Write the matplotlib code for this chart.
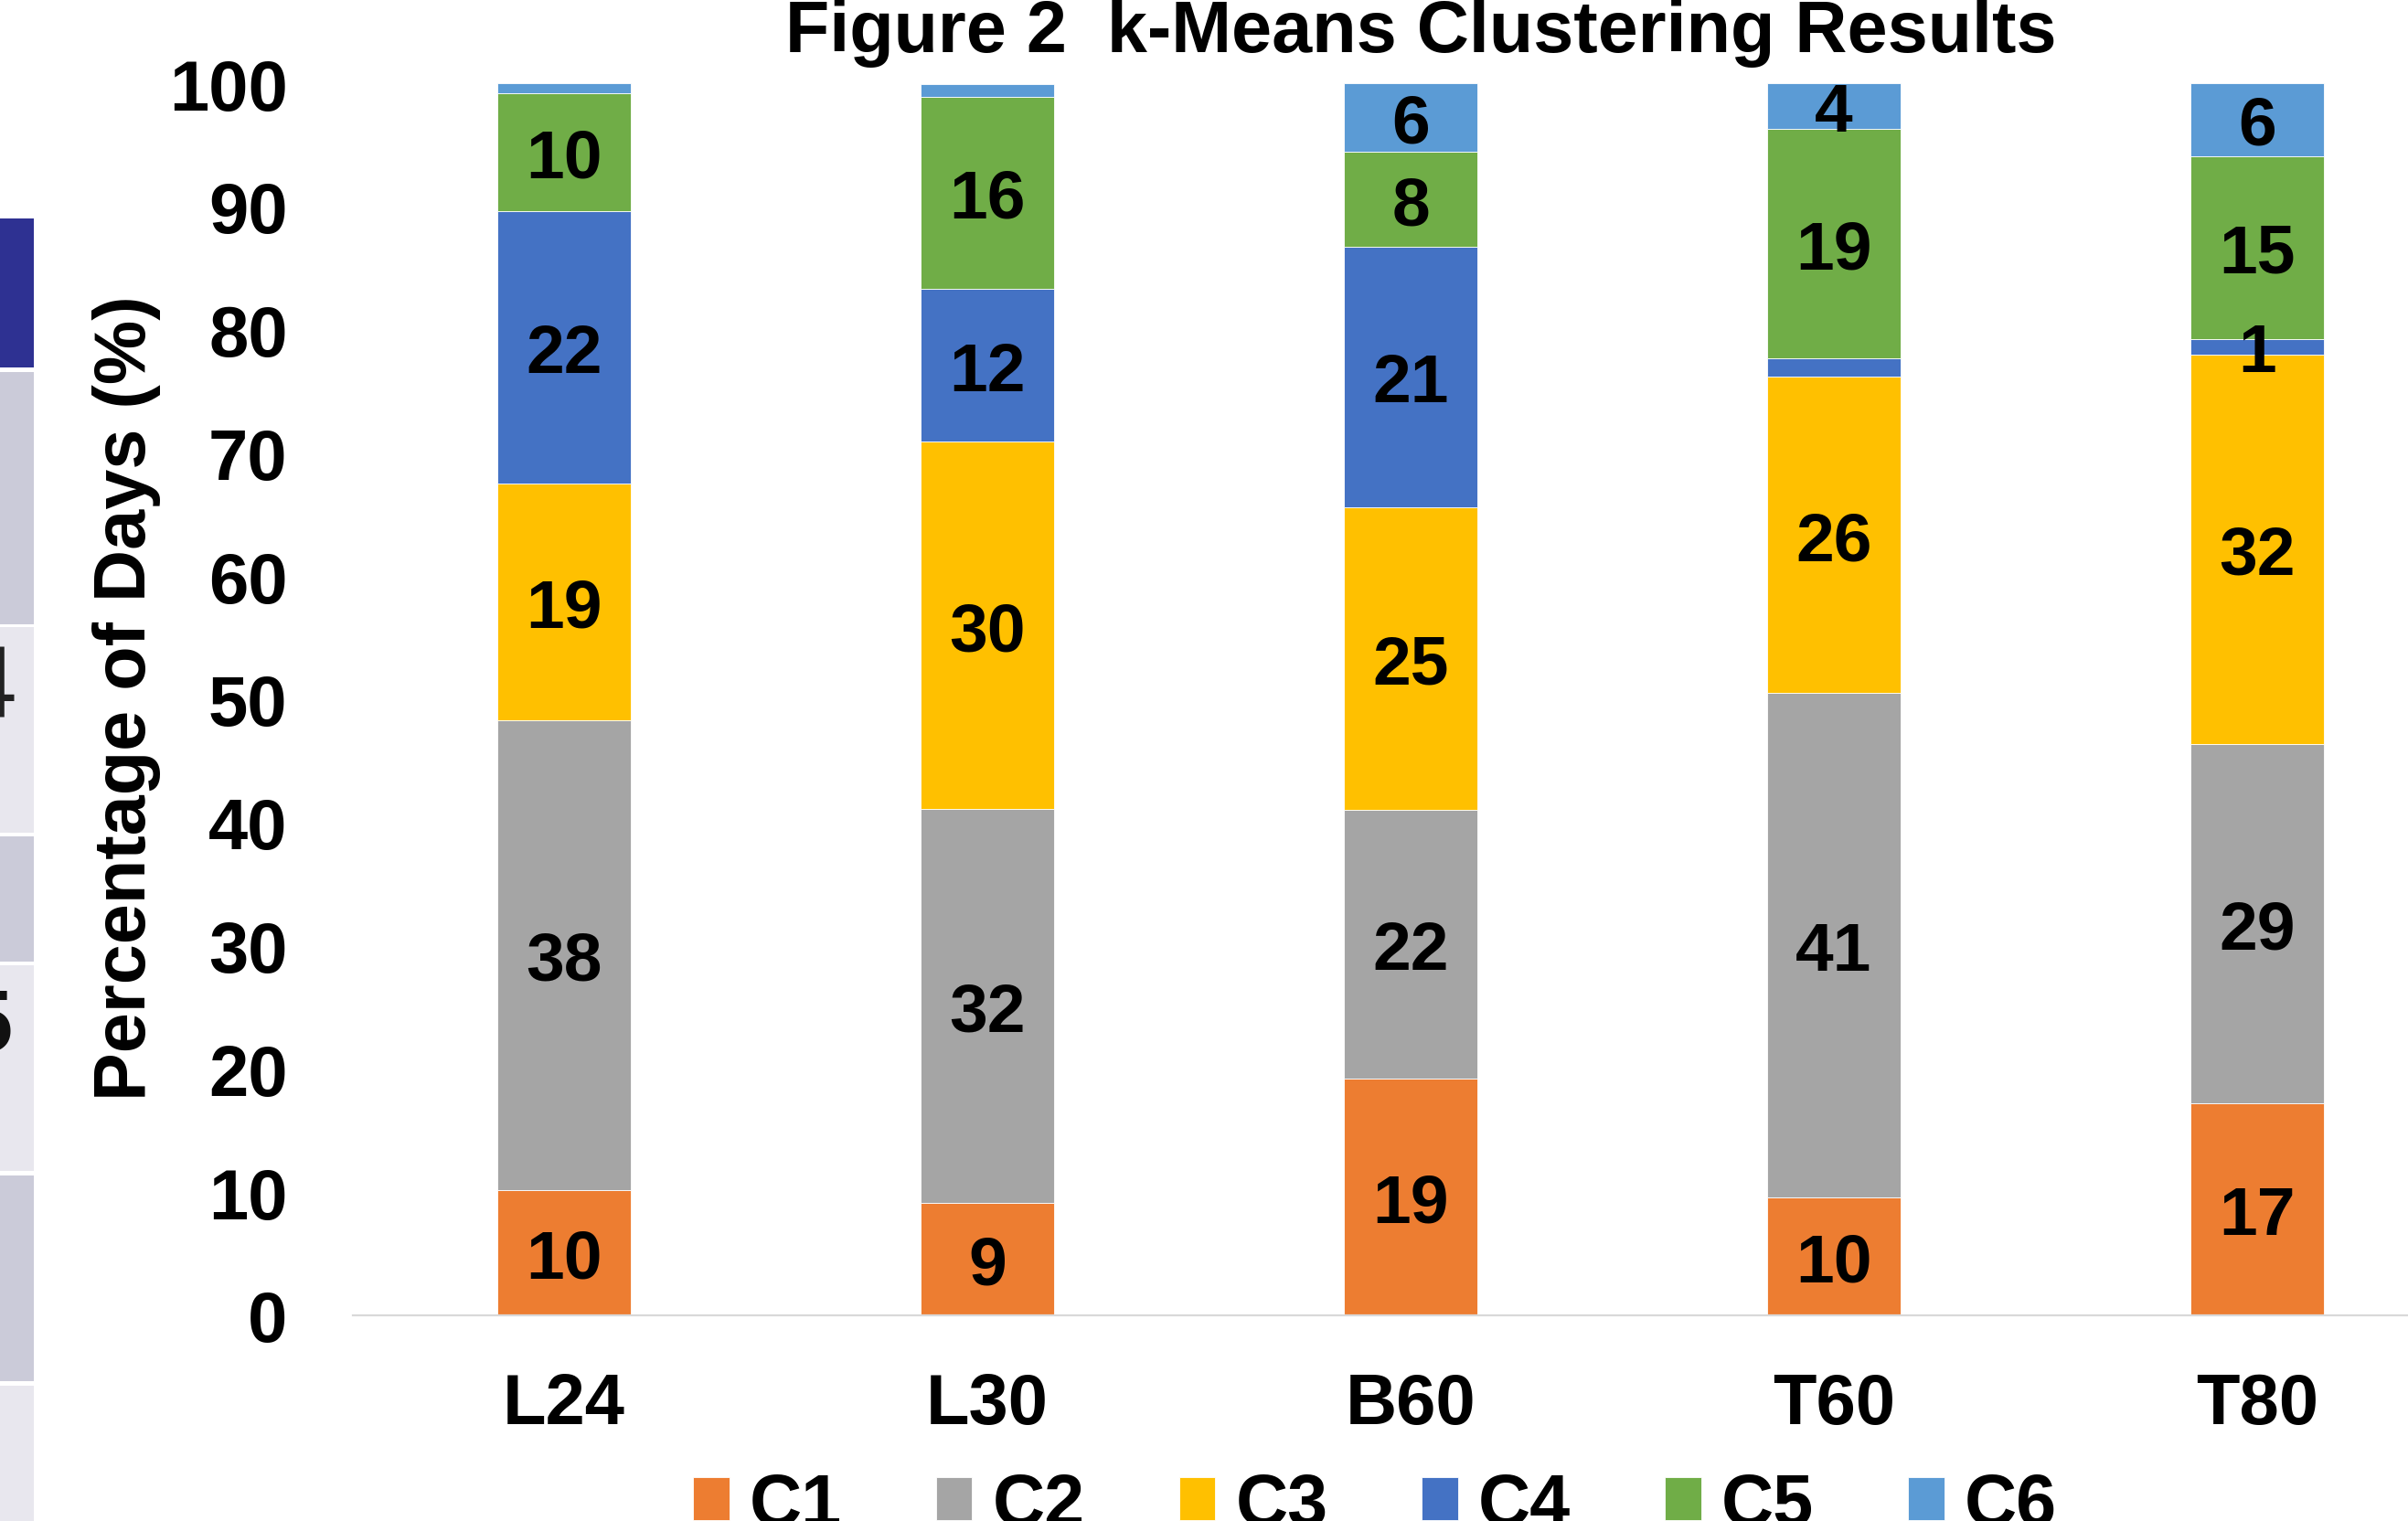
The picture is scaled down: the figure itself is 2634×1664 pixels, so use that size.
import matplotlib
matplotlib.use('Agg')
import matplotlib.pyplot as plt
from matplotlib.patches import Rectangle

sites = ['L24', 'L30', 'B60', 'T60', 'T80']
clusters = ['C1', 'C2', 'C3', 'C4', 'C5', 'C6']

# percentage of days assigned to each cluster, per site
c1 = [10.2, 9.1, 19.2, 9.6, 17.2]
c2 = [38.1, 32.0, 21.8, 40.9, 29.2]
c3 = [19.2, 29.8, 24.6, 25.7, 31.6]
c4 = [22.1, 12.4, 21.1, 1.5, 1.2]
c5 = [9.6, 15.6, 7.7, 18.6, 14.9]
c6 = [0.8, 1.0, 5.6, 3.7, 5.9]
series = [c1, c2, c3, c4, c5, c6]

# slivers too thin to carry a number
unlabelled = {('C6', 'L24'), ('C6', 'L30'), ('C4', 'T60')}

colors = ['#ED7D31', '#A5A5A5', '#FFC000', '#4472C4', '#70AD47', '#5B9BD5']

plt.rcParams['font.family'] = ['Liberation Sans', 'DejaVu Sans']
plt.rcParams['font.weight'] = 'bold'

W, H = 2634, 1665
fig = plt.figure(figsize=(W / 100, H / 100), dpi=100)
ax = fig.add_axes([385.5 / W, 225 / H, 2315 / W, 1348 / H])

x = list(range(len(sites)))
bottom = [0.0] * len(sites)
handles = []
for name, vals, col in zip(clusters, series, colors):
    bars = ax.bar(x, vals, width=0.315, bottom=bottom, color=col,
                  edgecolor='white', linewidth=0.6, label=name, zorder=2)
    labels = ['' if (name, s) in unlabelled else f'{v:.0f}'
              for s, v in zip(sites, vals)]
    for t in ax.bar_label(bars, labels=labels, label_type='center',
                          fontsize=54, fontweight='bold', color='black'):
        t.set_va('center_baseline')
    bottom = [b + v for b, v in zip(bottom, vals)]
    handles.append(bars)

ax.set_xlim(-0.5, len(sites) - 0.5)
ax.set_ylim(0, 100)
ax.set_yticks(range(0, 101, 10))
ax.set_xticks(x)
ax.set_xticklabels(sites)
ax.tick_params(axis='y', length=0, pad=51, labelsize=56)
ax.tick_params(axis='x', length=0, pad=44, labelsize=56)
for s in ('top', 'right', 'left'):
    ax.spines[s].set_visible(False)
ax.spines['bottom'].set_color('#d9d9d9')
ax.spines['bottom'].set_linewidth(1.6)

fig.text(139 / W, 1 - 764 / H, 'Percentage of Days (%)', rotation=90,
         ha='center', va='center', fontsize=57, fontweight='bold')
fig.text(1554 / W, 1 - 57 / H, 'Figure 2  k-Means Clustering Results',
         ha='center', va='baseline', fontsize=57, fontweight='bold')

fig.legend(handles, clusters, loc='center', bbox_to_anchor=(0.571, 0.010),
           ncol=6, frameon=False, fontsize=57, handlelength=0.5,
           handleheight=0.53, handletextpad=0.28, columnspacing=1.3)

# edge of the neighbouring table on the slide
rows = [(240, 403, '#2E3192'), (408, 684, '#CBCBD9'), (687, 912, '#E8E7EE'),
        (916, 1053, '#CBCBD9'), (1057, 1282, '#E8E7EE'),
        (1287, 1512, '#CBCBD9'), (1517, 1665, '#E8E7EE')]
for top, bot, fc in rows:
    fig.patches.append(Rectangle((0, 1 - bot / H), 37 / W, (bot - top) / H,
                                 transform=fig.transFigure, facecolor=fc,
                                 edgecolor='none'))
fig.text(18 / W, 1 - 785 / H, '4', ha='right', va='baseline', fontsize=80,
         fontweight='normal', color='#222222')
fig.text(14 / W, 1 - 1150 / H, '5', ha='right', va='baseline', fontsize=70,
         fontweight='bold', color='#111111')

fig.savefig('out.png', dpi=100, facecolor='white')
